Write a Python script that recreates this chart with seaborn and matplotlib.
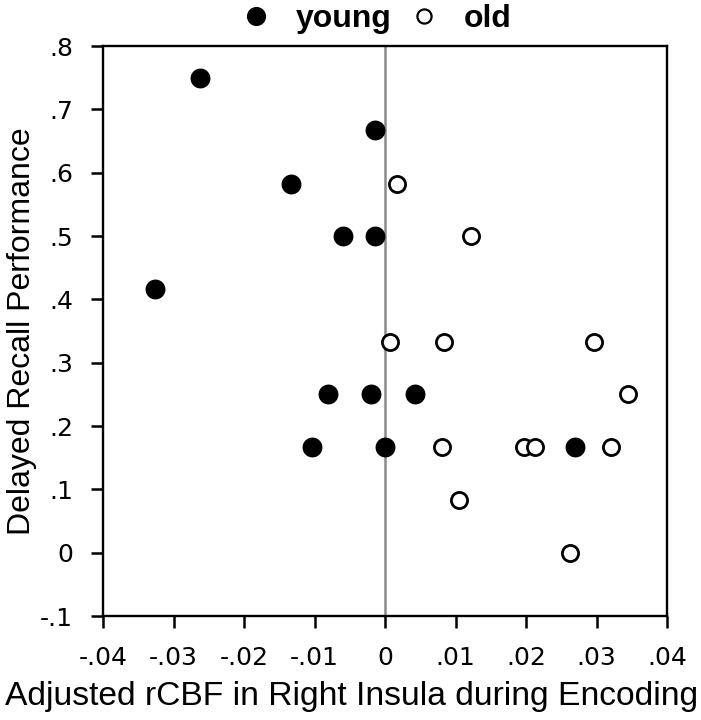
import matplotlib
matplotlib.use('Agg')
import matplotlib.pyplot as plt
from matplotlib.lines import Line2D
import seaborn as sns
import pandas as pd

# young subjects (filled)
young_x = [-0.0262, -0.0014, -0.0134, -0.0060, -0.0014, -0.0326,
           -0.0081, -0.0020, 0.0042, -0.0104, 0.0000, 0.0270]
young_y = [0.750, 0.667, 0.583, 0.500, 0.500, 0.417,
           0.250, 0.250, 0.250, 0.167, 0.167, 0.167]

# old subjects (open)
old_x = [0.0017, 0.0122, 0.0007, 0.0084, 0.0296, 0.0344,
         0.0081, 0.0197, 0.0213, 0.0321, 0.0105, 0.0263]
old_y = [0.583, 0.500, 0.333, 0.333, 0.333, 0.250,
         0.167, 0.167, 0.167, 0.167, 0.083, 0.000]

x_ticks = [-0.04, -0.03, -0.02, -0.01, 0, 0.01, 0.02, 0.03, 0.04]
x_labels = ['-.04', '-.03', '-.02', '-.01', '0', '.01', '.02', '.03', '.04']
y_ticks = [-0.1, 0, 0.1, 0.2, 0.3, 0.4, 0.5, 0.6, 0.7, 0.8]
y_labels = ['-.1', '0', '.1', '.2', '.3', '.4', '.5', '.6', '.7', '.8']

young = pd.DataFrame({'x': young_x, 'y': young_y})
old = pd.DataFrame({'x': old_x, 'y': old_y})

sns.set_style('white')
plt.rcParams['font.family'] = ['Liberation Sans', 'DejaVu Sans']
plt.rcParams['text.color'] = 'black'
plt.rcParams['axes.labelcolor'] = 'black'

fig = plt.figure(figsize=(7.01, 7.2), dpi=100)
ax = fig.add_axes([0.147, 0.1444, 0.8045, 0.7916])

ax.axvline(0, color='#8a8a8a', lw=1.8, zorder=1)

sns.scatterplot(data=young, x='x', y='y', ax=ax, s=205, color='black',
                edgecolor='black', linewidth=0, zorder=3, legend=False)
sns.scatterplot(data=old, x='x', y='y', ax=ax, s=135, facecolor='white',
                edgecolor='black', linewidth=2.0, zorder=3, legend=False)

ax.set_xlim(-0.04, 0.04)
ax.set_ylim(-0.1, 0.8)
ax.set_xticks(x_ticks)
ax.set_xticklabels(x_labels, family='DejaVu Sans')
ax.set_yticks(y_ticks)
ax.set_yticklabels(y_labels, family='DejaVu Sans')
ax.tick_params(axis='both', direction='out', length=8.5, width=1.8,
               labelsize=18, color='black', labelcolor='black',
               bottom=True, left=True)
ax.tick_params(axis='x', pad=13)
ax.tick_params(axis='y', pad=13)

for sp in ax.spines.values():
    sp.set_visible(True)
    sp.set_color('black')
    sp.set_linewidth(1.7)

ax.set_xlabel('Adjusted rCBF in Right Insula during Encoding', fontsize=24.2, labelpad=8)
ax.xaxis.label.set_x(0.44)
ax.set_ylabel('Delayed Recall Performance', fontsize=23, labelpad=2)

handles = [
    Line2D([], [], ls='none', marker='o', markersize=13.8, color='black', mew=0),
    Line2D([], [], ls='none', marker='o', markersize=10.2, mfc='white',
           mec='black', mew=1.6),
]
leg = fig.legend(handles, ['young', 'old'], loc='center',
                 bbox_to_anchor=(0.536, 1 - 19 / 720), ncol=2, frameon=False,
                 prop={'size': 23, 'weight': 'bold'}, handlelength=1.0,
                 handletextpad=0.75, columnspacing=0.5, borderpad=0,
                 borderaxespad=0)

plt.savefig('out.png', dpi=100)
